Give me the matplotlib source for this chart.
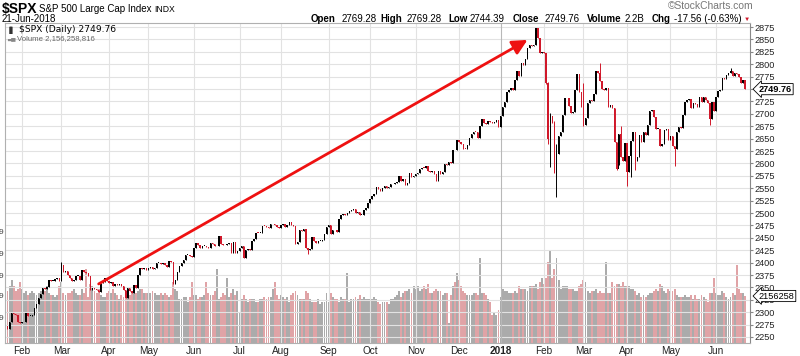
import matplotlib
matplotlib.use("Agg")
import matplotlib.pyplot as plt
import matplotlib.transforms as mtransforms
import numpy as np
import pandas as pd

plt.rcParams['font.family'] = ['Liberation Sans', 'DejaVu Sans']

# --- data: $SPX daily, 23-Jan-2017 .. 21-Jun-2018 ---
holidays = ['2017-02-20', '2017-04-14', '2017-05-29', '2017-07-04', '2017-09-04',
            '2017-11-23', '2017-12-25', '2018-01-01', '2018-01-15', '2018-02-19',
            '2018-03-30', '2018-05-28']
prev_close_start = 2271.3

closes = [
    # Jan 2017
    2265.2, 2280.1, 2298.4, 2296.7, 2294.7, 2280.9, 2278.9,
    # Feb
    2279.6, 2280.9, 2297.4, 2292.6, 2293.1, 2294.7, 2307.9, 2316.1, 2328.3, 2337.6,
    2349.3, 2347.2, 2351.2, 2365.4, 2362.8, 2363.8, 2367.3, 2369.8, 2363.6,
    # Mar
    2396.0, 2381.9, 2383.1, 2375.3, 2368.4, 2363.0, 2364.9, 2372.6, 2373.5, 2365.5,
    2385.3, 2381.4, 2378.3, 2373.5, 2344.0, 2348.5, 2346.0, 2344.0, 2341.6, 2358.6,
    2361.1, 2368.1, 2362.7,
    # Apr
    2358.8, 2360.2, 2352.9, 2357.5, 2355.5, 2357.2, 2353.8, 2344.9, 2329.0, 2349.0,
    2342.2, 2338.2, 2355.8, 2348.7, 2374.2, 2388.6, 2387.5, 2388.8, 2384.2,
    # May
    2388.3, 2391.2, 2388.1, 2389.5, 2399.3, 2399.4, 2396.9, 2399.6, 2394.4, 2390.9,
    2402.3, 2400.7, 2357.0, 2365.7, 2381.7, 2394.0, 2398.4, 2404.4, 2415.1, 2415.8,
    2412.9, 2411.8,
    # Jun
    2430.1, 2439.1, 2436.1, 2429.3, 2433.1, 2433.8, 2431.8, 2429.4, 2440.3, 2437.9,
    2432.5, 2433.2, 2453.5, 2437.0, 2435.6, 2434.5, 2438.3, 2439.1, 2419.4, 2440.7,
    2419.7, 2423.4,
    # Jul
    2429.0, 2432.5, 2409.8, 2425.2, 2427.4, 2425.5, 2443.3, 2447.8, 2459.3, 2459.1,
    2460.6, 2473.8, 2473.5, 2472.5, 2469.9, 2477.1, 2477.8, 2475.4, 2472.1, 2470.3,
    # Aug
    2476.4, 2477.6, 2472.2, 2476.8, 2480.9, 2474.9, 2474.0, 2438.2, 2441.3, 2465.8,
    2464.6, 2468.1, 2430.0, 2425.6, 2428.4, 2452.5, 2444.0, 2439.0, 2443.1, 2444.2,
    2446.3, 2457.6, 2471.7,
    # Sep
    2476.6, 2457.9, 2465.5, 2465.1, 2461.4, 2488.1, 2496.5, 2498.4, 2495.6, 2500.2,
    2503.9, 2506.7, 2508.2, 2500.6, 2502.2, 2496.7, 2496.8, 2507.0, 2510.1, 2519.4,
    # Oct
    2529.1, 2534.6, 2537.7, 2552.1, 2549.3, 2544.7, 2550.6, 2555.2, 2550.9, 2553.2,
    2557.6, 2559.4, 2561.3, 2562.1, 2575.2, 2565.0, 2569.1, 2557.2, 2560.4, 2581.1,
    2572.8, 2575.3,
    # Nov
    2579.4, 2579.9, 2587.8, 2591.1, 2590.6, 2594.4, 2584.6, 2582.3, 2584.8, 2578.9,
    2564.6, 2585.6, 2578.9, 2582.1, 2599.0, 2597.1, 2602.4, 2601.4, 2627.0, 2626.1,
    2647.6,
    # Dec
    2642.2, 2639.4, 2629.6, 2629.3, 2637.0, 2651.5, 2660.0, 2664.1, 2662.9, 2652.0,
    2675.8, 2690.2, 2681.5, 2679.3, 2684.6, 2683.3, 2680.5, 2682.6, 2687.5, 2673.6,
    # Jan 2018
    2695.8, 2713.1, 2724.0, 2743.2, 2747.7, 2751.3, 2748.2, 2767.6, 2786.2, 2776.4,
    2802.6, 2798.0, 2810.3, 2833.0, 2839.1, 2837.5, 2839.3, 2872.9, 2853.5, 2822.4,
    2823.8,
    # Feb
    2822.0, 2762.1, 2648.9, 2695.1, 2681.7, 2581.0, 2619.6, 2656.0, 2662.9, 2698.6,
    2731.2, 2732.2, 2716.3, 2701.3, 2704.0, 2747.3, 2779.6, 2744.3, 2713.8,
    # Mar
    2677.7, 2691.3, 2720.9, 2728.1, 2726.8, 2739.0, 2786.6, 2783.0, 2765.3, 2749.5,
    2747.3, 2752.0, 2712.9, 2716.9, 2711.9, 2643.7, 2588.3, 2658.6, 2612.6, 2605.0,
    2640.9,
    # Apr
    2581.9, 2614.5, 2644.7, 2662.8, 2604.5, 2613.2, 2656.9, 2642.2, 2664.0, 2656.3,
    2677.8, 2706.4, 2708.6, 2693.1, 2670.1, 2670.3, 2634.6, 2639.4, 2666.9, 2669.9,
    2648.1,
    # May
    2654.8, 2635.7, 2629.7, 2663.4, 2672.6, 2671.9, 2697.8, 2723.1, 2727.7, 2730.1,
    2711.5, 2722.5, 2720.1, 2713.0, 2733.0, 2724.4, 2733.3, 2727.8, 2721.3, 2689.9,
    2724.0, 2705.3,
    # Jun
    2734.6, 2746.9, 2748.8, 2772.4, 2770.4, 2779.0, 2782.0, 2786.9, 2775.6, 2782.5,
    2779.7, 2773.9, 2762.6, 2767.3, 2749.76,
]

# volume, billions
volumes = [
    2.4, 2.6, 2.9, 2.6, 2.4, 2.5, 2.8,
    2.5, 2.3, 2.4, 2.2, 2.3, 2.4, 2.3, 2.2, 2.3, 2.4, 2.5, 2.4, 2.6, 2.3, 2.2, 2.2, 2.1, 2.2, 2.6,
    2.8, 2.3, 2.2, 2.3, 2.3, 2.4, 2.5, 2.3, 2.2, 2.2, 2.5, 2.3, 3.4, 2.1, 2.7, 2.6, 2.4, 2.3,
    2.5, 2.2, 2.1, 2.1, 2.3,
    2.4, 2.3, 2.5, 2.3, 2.2, 2.0, 2.2, 2.1, 2.4, 2.1, 2.2, 2.3, 2.4, 2.3, 2.4, 2.5, 2.5, 2.3, 2.3,
    2.3, 2.3, 2.4, 2.3, 2.2, 2.2, 2.3, 2.2, 2.3, 2.2, 2.1, 2.2, 2.8, 2.5, 2.4, 2.0, 2.0, 2.1,
    2.1, 1.9, 2.1, 2.8,
    2.2, 2.2, 2.0, 2.1, 2.1, 2.2, 2.8, 2.3, 2.2, 2.2, 2.4, 3.4, 2.0, 2.1, 2.3, 2.2, 3.0, 2.1,
    2.3, 2.5, 2.2, 2.4,
    1.4, 2.0, 2.2, 2.0, 1.9, 2.0, 2.0, 2.0, 1.9, 1.9, 2.0, 2.0, 2.1, 2.0, 2.1, 2.1, 2.5, 2.8,
    2.2, 2.0,
    2.2, 2.1, 2.0, 2.1, 1.9, 2.2, 2.3, 2.4, 2.2, 2.0, 2.0, 2.0, 2.4, 2.3, 2.0, 1.9, 1.9, 1.9,
    2.0, 1.8, 1.9, 1.9, 2.3,
    1.9, 2.3, 2.1, 2.0, 2.0, 1.9, 2.1, 2.0, 2.0, 3.2, 1.9, 2.0, 2.0, 2.1, 2.0, 2.2, 2.0, 2.1,
    2.0, 2.0,
    2.0, 2.0, 2.1, 2.0, 1.9, 1.8, 1.9, 1.9, 1.9, 1.8, 2.0, 2.0, 2.1, 2.2, 2.4, 2.1, 2.3, 2.4,
    2.4, 2.5, 2.3, 2.6,
    2.5, 2.6, 2.4, 2.5, 2.6, 2.5, 2.7, 2.3, 2.3, 2.4, 2.5, 2.4, 2.4, 2.2, 2.3, 2.3, 0.9, 2.2,
    2.6, 2.8, 3.2,
    2.9, 2.6, 2.4, 2.3, 2.2, 2.2, 2.2, 2.3, 2.3, 2.2, 3.9, 2.3, 2.3, 2.2, 2.0, 1.9, 1.3, 1.4,
    1.3, 1.5,
    2.1, 2.5, 2.4, 2.4, 2.3, 2.3, 2.3, 2.4, 2.3, 2.6, 2.5, 2.5, 2.5, 2.4, 2.6, 2.6, 2.6, 2.7,
    2.5, 2.8, 3.0,
    2.7, 3.0, 3.7, 4.2, 3.0, 3.4, 3.9, 2.9, 2.5, 2.6, 2.6, 2.6, 2.5, 2.5, 2.5, 2.4, 2.4, 2.6, 2.7,
    2.9, 2.8, 2.4, 2.3, 2.4, 2.4, 2.5, 2.3, 2.4, 2.3, 2.3, 3.7, 2.3, 2.3, 2.8, 2.6, 2.7, 2.7,
    2.6, 2.8, 2.6,
    2.6, 2.6, 2.5, 2.5, 2.4, 2.2, 2.3, 2.1, 2.2, 2.1, 2.2, 2.3, 2.3, 2.4, 2.5, 2.4, 2.7, 2.6,
    2.4, 2.3, 2.5,
    2.4, 2.4, 2.5, 2.2, 2.1, 2.1, 2.1, 2.2, 2.1, 2.1, 2.2, 2.0, 2.2, 2.0, 2.0, 2.2, 2.1, 2.0,
    1.9, 2.3, 2.3, 3.0,
    2.3, 2.2, 2.2, 2.4, 2.3, 2.1, 2.0, 2.1, 2.3, 2.2, 3.6, 2.5, 2.3, 2.3, 2.156,
]

# intraday extremes on the days with visible wicks
wick_highs = {'2017-03-01': 2401.0, '2018-01-26': 2872.9, '2018-02-05': 2763.4,
              '2018-02-06': 2701.0, '2018-02-08': 2685.3, '2018-02-09': 2638.7,
              '2018-02-26': 2779.9, '2018-03-01': 2761.9, '2018-03-13': 2801.9,
              '2018-03-27': 2674.8, '2018-04-02': 2638.3, '2018-04-06': 2656.9,
              '2018-06-12': 2791.5}
wick_lows = {'2017-08-10': 2437.8, '2017-08-18': 2417.4, '2018-02-02': 2760.0,
             '2018-02-05': 2638.2, '2018-02-06': 2593.1, '2018-02-08': 2580.6,
             '2018-02-09': 2532.7, '2018-03-01': 2674.8, '2018-03-23': 2585.9,
             '2018-03-26': 2596.0, '2018-04-02': 2553.8, '2018-04-04': 2573.6,
             '2018-04-06': 2586.3, '2018-05-03': 2594.6, '2018-05-29': 2676.8}

arrow_from = ('2017-03-27', 2357)
arrow_to = ('2018-01-22', 2849)

price_ticks = list(range(2250, 2876, 25))

# --- derived ---
dates = pd.bdate_range('2017-01-23', '2018-06-21', freq='C', holidays=holidays)
n = len(dates)
closes = np.array(closes)
volumes = np.array(volumes)
opens = np.concatenate([[prev_close_start], closes[:-1]])
xs = np.arange(n)
up = closes >= opens
date_idx = {d.strftime('%Y-%m-%d'): i for i, d in enumerate(dates)}

RED = '#d0182a'
PINK = '#e0a3a6'
GRAY = '#ababab'
GRID = '#e2e2e2'
VOL_TOP = 14.68

W, H = 800, 356
fig = plt.figure(figsize=(W / 100, H / 100), dpi=100)
rect = [5 / W, 1 - 343 / H, 745 / W, 320 / H]
ax = fig.add_axes(rect)
ax_v = ax.twinx()
ax.set_zorder(ax_v.get_zorder() + 1)
ax.patch.set_visible(False)

# volume bars
ax_v.bar(xs, volumes, width=0.92, color=np.where(up, GRAY, PINK), linewidth=0)
ax_v.set_ylim(0, VOL_TOP)
ax_v.set_yticks([])
for s in ax_v.spines.values():
    s.set_visible(False)

# grid
month_pos = [i for i in range(1, n) if dates[i].month != dates[i - 1].month]
month_lab = [dates[i].strftime('%b') if dates[i].month != 1 else str(dates[i].year)
             for i in month_pos]
for p in price_ticks:
    ax.axhline(p, color=GRID, lw=0.8, zorder=0)
for i, lab in zip(month_pos, month_lab):
    ax.axvline(i, color='#b8b8b8' if lab == '2018' else GRID, lw=0.8, zorder=0)

# candles
body_lo = np.minimum(opens, closes)
body_h = np.maximum(np.abs(closes - opens), 1.6)
colors = np.where(up, 'black', RED)
hi = np.maximum(opens, closes)
lo = body_lo.copy()
for d, v in wick_highs.items():
    hi[date_idx[d]] = v
for d, v in wick_lows.items():
    lo[date_idx[d]] = v
ax.vlines(xs, lo, hi, colors=colors, lw=0.7, zorder=3)
ax.bar(xs, body_h, bottom=body_lo, width=0.7, color=colors, linewidth=0, zorder=4)

# red arrow
ax.annotate('', xy=(date_idx[arrow_to[0]], arrow_to[1]),
            xytext=(date_idx[arrow_from[0]], arrow_from[1]),
            arrowprops=dict(arrowstyle='-|>,head_length=0.9,head_width=0.45',
                            color='#ee1111', lw=2.0, shrinkA=0, shrinkB=0),
            zorder=6)

ax.set_xlim(-1.2, 358.4)
ax.set_ylim(2237.9, 2883.1)
ax.yaxis.tick_right()
ax.set_yticks(price_ticks)
# the 2750 label sits under the last-price tag
ax.set_yticklabels(['' if p == 2750 else str(p) for p in price_ticks],
                   fontsize=6.6, color='#222222')
ax.tick_params(axis='y', length=2, pad=1, color='#888888')
ax.set_xticks(month_pos)
ax.set_xticklabels(month_lab, fontsize=7.2, color='#222222')
for lbl in ax.get_xticklabels():
    if lbl.get_text() == '2018':
        lbl.set_fontweight('bold')
ax.tick_params(axis='x', length=0, pad=2)
for s in ax.spines.values():
    s.set_color('#b0b0b0')
    s.set_linewidth(0.8)
ax.spines['right'].set_color('#888888')

# last value tags (drawn over the price labels, as on the original)
trans = mtransforms.blended_transform_factory(ax.transAxes, ax.transData)
ax.text(1.012, closes[-1], f'{closes[-1]:.2f}', transform=trans, fontsize=6.6,
        fontweight='bold', ha='left', va='center', zorder=10,
        bbox=dict(boxstyle='larrow,pad=0.12', fc='white', ec='black', lw=0.6))
trans_v = mtransforms.blended_transform_factory(ax_v.transAxes, ax_v.transData)
ax.text(1.012, volumes[-1], '2156258', transform=trans_v, fontsize=6.6,
        ha='left', va='center', zorder=10,
        bbox=dict(boxstyle='larrow,pad=0.12', fc='white', ec='black', lw=0.6))

# header
def fx(x):
    return x / W

def fy(y):
    return 1 - y / H

fig.text(fx(2), fy(12.5), '$SPX', fontsize=10, fontweight='bold', va='baseline')
fig.text(fx(39), fy(12), 'S&P 500 Large Cap Index', fontsize=7.0, va='baseline')
fig.text(fx(154), fy(12), 'INDX', fontsize=6.2, va='baseline')
fig.text(fx(2), fy(22), '21-Jun-2018', fontsize=7.0, va='baseline')
fig.text(fx(668), fy(9), '\u00a9StockCharts.com', fontsize=7.4, color='#777777', va='baseline')

header = [(311, 'Open', True), (342, '2769.28', False), (380, 'High', True),
          (407, '2769.28', False), (448, 'Low', True), (470, '2744.39', False),
          (513, 'Close', True), (545, '2749.76', False), (587, 'Volume', True),
          (625, '2.2B', False), (652, 'Chg', True), (674, '-17.56 (-0.63%)', False)]
for x, t, b in header:
    fig.text(fx(x), fy(21.5), t, fontsize=7.0, va='baseline',
             fontweight='bold' if b else 'normal')
fig.text(fx(747), fy(19.5), '\u25bc', fontsize=4.5, color=RED, ha='center', va='center')

# legend inside plot
fig.text(fx(7), fy(30), '\u2590\u258c', fontsize=4.5, color='#333333', va='center')
fig.text(fx(19), fy(30), '$SPX (Daily) 2749.76', fontsize=6.6, va='center',
         family='DejaVu Sans')
fig.text(fx(7), fy(38.5), '\u2583\u2585', fontsize=4, color='#888888', va='center')
fig.text(fx(17), fy(38.5), 'Volume 2,156,258,816', fontsize=5.6, color='#666666',
         va='center')

# clipped left-hand volume scale
for y in [232, 255, 277, 297, 318]:
    fig.text(fx(1), fy(y), '9', fontsize=6, color='#444444', ha='center', va='center')

fig.savefig('out.png', dpi=100, facecolor='white')
